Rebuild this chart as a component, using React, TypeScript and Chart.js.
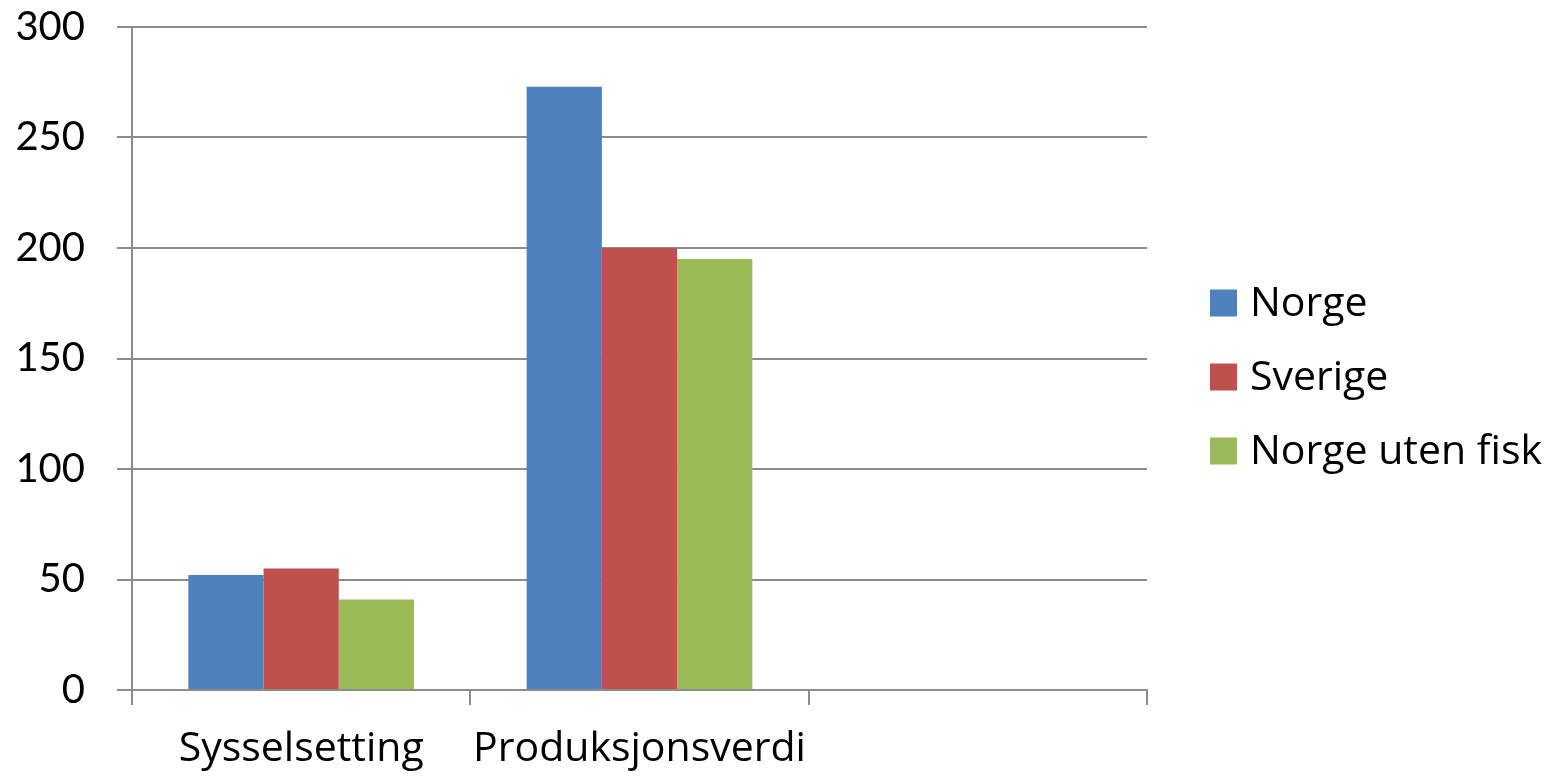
import React, { useEffect, useRef } from "react";
import { Chart, registerables } from "chart.js";

Chart.register(...registerables);

const categories = ["Sysselsetting", "Produksjonsverdi", ""];
const seriesNames = ["Norge", "Sverige", "Norge uten fisk"];
const norge = [52, 273, null];
const sverige = [55, 200, null];
const norgeUtenFisk = [41, 195, null];
const colors = ["#4F81BD", "#C0504D", "#9BBB59"];
const yTicks = [0, 50, 100, 150, 200, 250, 300];

const FONT = "Lato, 'Open Sans', sans-serif";
const FONT2 = "'Open Sans', Lato, sans-serif";
const GRID = "#8c8c8c";

const legendPlugin = {
  id: "customLegend",
  afterDraw(chart: any) {
    const ctx = chart.ctx;
    const x0 = 1210;
    const ys = [303, 377, 451];
    ctx.save();
    ctx.font = `41px ${FONT2}`;
    ctx.textBaseline = "middle";
    ctx.textAlign = "left";
    chart.data.datasets.forEach((ds: any, i: number) => {
      ctx.fillStyle = ds.backgroundColor;
      ctx.fillRect(x0, ys[i] - 13.5, 27, 27);
      ctx.fillStyle = "#000";
      ctx.fillText(ds.label, 1250, ys[i] + 1);
    });
    ctx.restore();
  },
};

export default function App() {
  const ref = useRef<HTMLCanvasElement>(null);
  useEffect(() => {
    document.body.style.margin = "0";
    const chart = new Chart(ref.current!, {
      type: "bar",
      data: {
        labels: categories,
        datasets: [norge, sverige, norgeUtenFisk].map((d, i) => ({
          label: seriesNames[i],
          data: d,
          backgroundColor: colors[i],
          borderWidth: 0,
          categoryPercentage: 0.667,
          barPercentage: 1,
        })),
      },
      options: {
        animation: false,
        responsive: false,
        maintainAspectRatio: false,
        layout: { padding: { top: 0, right: 409, left: 0, bottom: 0 } },
        plugins: { legend: { display: false }, tooltip: { enabled: false } },
        scales: {
          x: {
            offset: true,
            grid: {
              offset: true,
              drawOnChartArea: false,
              drawTicks: true,
              tickLength: 15,
              color: GRID,
              lineWidth: 2,
            },
            border: { color: GRID, width: 2 },
            ticks: {
              color: "#000",
              font: { family: FONT2, size: 41 },
              padding: 20,
              maxRotation: 0,
              autoSkip: false,
            },
            afterFit(scale: any) {
              scale.height = 86;
            },
          },
          y: {
            min: 0,
            max: 300,
            afterBuildTicks(scale: any) {
              scale.ticks = yTicks.map((v) => ({ value: v }));
            },
            grid: { color: GRID, lineWidth: 2, tickLength: 15 },
            border: { color: GRID, width: 2 },
            ticks: {
              color: "#000",
              font: { family: FONT, size: 40 },
              padding: 32,
            },
            afterFit(scale: any) {
              scale.width = 132;
              scale.paddingTop = 27;
              scale.paddingBottom = 0;
            },
          },
        },
      },
      plugins: [legendPlugin],
    });
    return () => chart.destroy();
  }, []);
  return (
    <div style={{ width: 1556, height: 776 }}>
      <canvas ref={ref} width={1556} height={776} style={{ display: "block" }} />
    </div>
  );
}
